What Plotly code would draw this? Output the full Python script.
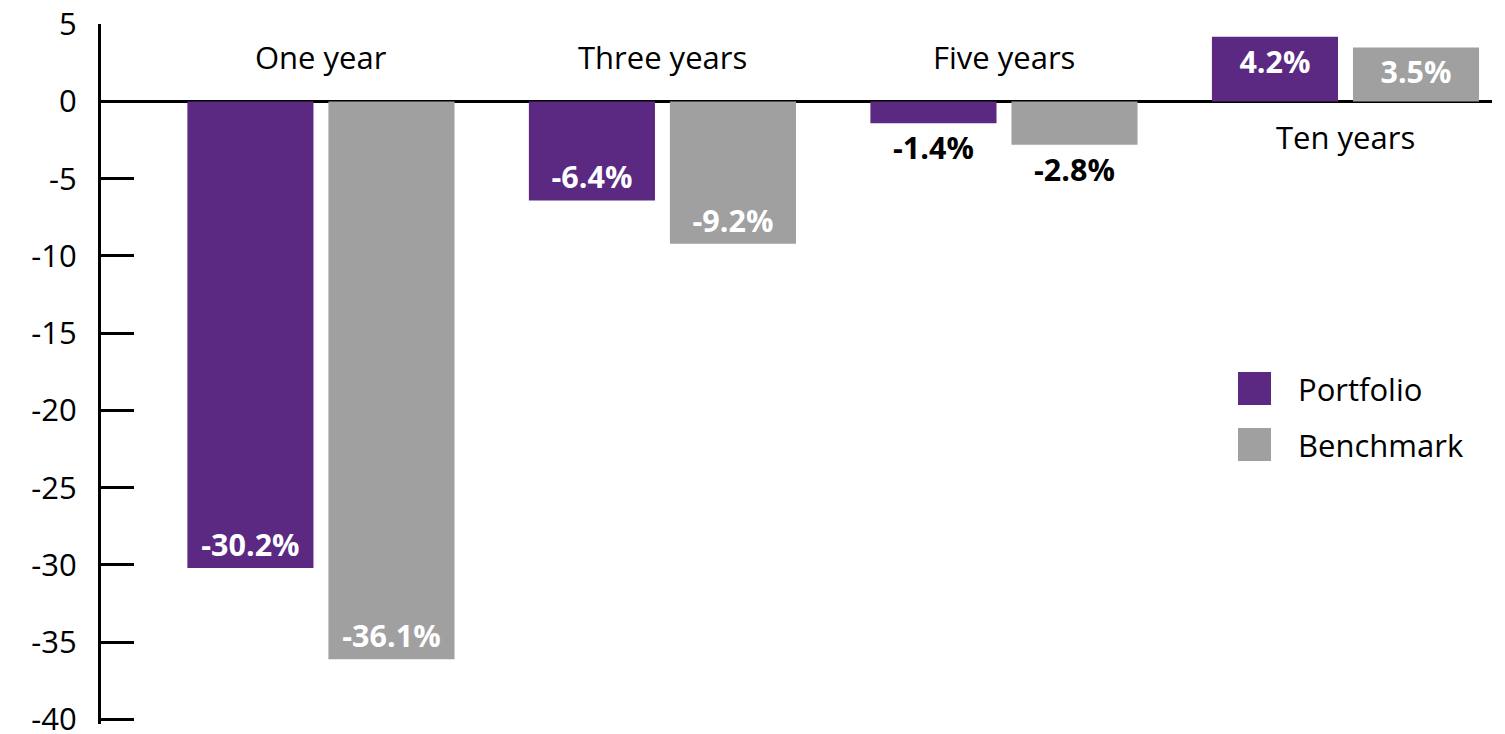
import plotly.graph_objects as go

categories = ["One year", "Three years", "Five years", "Ten years"]
portfolio = [-30.2, -6.4, -1.4, 4.2]
benchmark = [-36.1, -9.2, -2.8, 3.5]
series_names = ["Portfolio", "Benchmark"]
y_ticks = [5, 0, -5, -10, -15, -20, -25, -30, -35, -40]
y_tick_labels = [str(v) for v in y_ticks]

PURPLE = "#5B2882"
GREY = "#A0A0A0"
FONT = "Open Sans"
FS = 31

Y_MIN, Y_MAX = -40.3, 5.02
L, R, T, B = 101, 13, 24, 10
W, H = 1505, 734
PW, PH = W - L - R, H - T - B
PX_PER_UNIT = PH / (Y_MAX - Y_MIN)


def ypx(v):
    return T + (Y_MAX - v) * PX_PER_UNIT


x_idx = list(range(len(categories)))


def text_style(vals):
    pos, col = [], []
    for v in vals:
        if abs(v) < 3:
            pos.append("outside")
            col.append("black")
        else:
            pos.append("inside")
            col.append("white")
    return pos, col


fig = go.Figure()
for name, vals, color in [(series_names[0], portfolio, PURPLE), (series_names[1], benchmark, GREY)]:
    pos, col = text_style(vals)
    fig.add_trace(go.Bar(
        x=x_idx, y=vals, name=name,
        marker=dict(color=color, line=dict(width=0)),
        text=[f"{v:.1f}%" for v in vals],
        textposition=pos,
        insidetextanchor="end",
        textangle=0,
        constraintext="none",
        cliponaxis=False,
        textfont=dict(family=FONT, size=30.5, color=col, weight="bold"),
        showlegend=False,
    ))

# category labels: above zero line for negative groups, below for positive
for i, cat in enumerate(categories):
    positive = max(portfolio[i], benchmark[i]) > 0
    fig.add_annotation(
        x=i, y=0, text=cat, showarrow=False,
        yanchor="middle", yshift=-35 if positive else 45,
        font=dict(family=FONT, size=FS, color="black"),
    )

# manual legend (large square swatches)
for k, (name, color) in enumerate([(series_names[0], PURPLE), (series_names[1], GREY)]):
    y_top = (H - B - 372 - 56 * k) / PH
    y_bot = (H - B - 405 - 56 * k) / PH
    fig.add_shape(type="rect", xref="paper", yref="paper",
                  x0=(1238 - L) / PW, x1=(1271 - L) / PW, y0=y_bot, y1=y_top,
                  fillcolor=color, line=dict(width=0))
    fig.add_annotation(xref="paper", yref="paper", x=(1296 - L) / PW, y=(y_top + y_bot) / 2,
                       text=name, showarrow=False, xanchor="left", yanchor="middle",
                       font=dict(family=FONT, size=FS, color="black"))

fig.update_layout(
    width=W, height=H,
    margin=dict(l=L, r=R, t=T, b=B, autoexpand=False),
    paper_bgcolor="white", plot_bgcolor="white",
    barmode="group", bargap=0.174, bargroupgap=0.106,
    font=dict(family=FONT, size=FS, color="black"),
    showlegend=False,
)
fig.update_xaxes(
    range=[-0.644, 3.429], showgrid=False, showticklabels=False, ticks="",
    zeroline=False, showline=False, fixedrange=True, automargin=False,
)
fig.update_yaxes(
    range=[Y_MIN, Y_MAX], tickmode="array", tickvals=y_ticks, ticktext=y_tick_labels,
    showgrid=False, automargin=False, ticklabeloverflow="allow",
    showline=True, linecolor="black", linewidth=3,
    ticks="inside", ticklen=33, tickwidth=3, tickcolor="black",
    ticklabelstandoff=15,
    zeroline=True, zerolinecolor="black", zerolinewidth=3,
    tickfont=dict(family=FONT, size=FS, color="black"),
)

fig.write_html(
    "out.html",
    config={"displayModeBar": False},
    post_script="document.body.style.margin='0';document.body.style.overflow='hidden';",
)
